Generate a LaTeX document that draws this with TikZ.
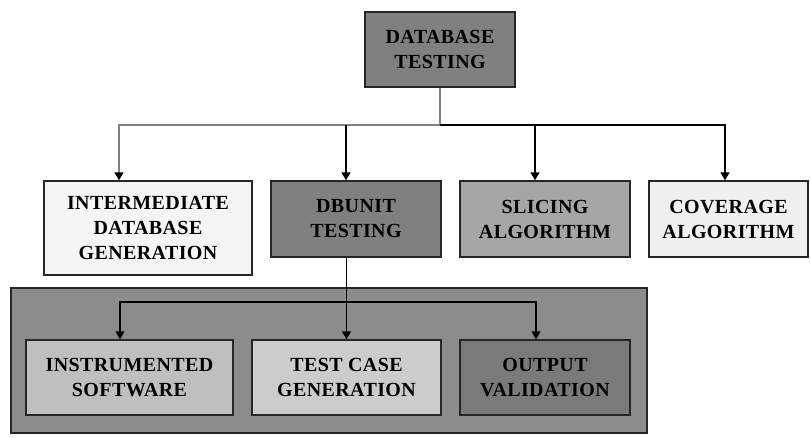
\documentclass[tikz,border=0pt]{standalone}
\usepackage{fontspec}
\setmainfont{Liberation Serif}[LetterSpace=2]
\usetikzlibrary{arrows.meta}
\tikzset{
  blockbox/.style={draw=black!85, line width=1.4pt, align=center, inner sep=0pt,
    font=\fontsize{20}{25}\selectfont\bfseries},
  feed/.style={line width=1.7pt, -{Triangle[width=9pt,length=8pt,black]}},
  greyline/.style={draw=black!50},
}

\begin{document}
\begin{tikzpicture}[x=1pt,y=-1pt]
  %%%%% START %%%%%
  \useasboundingbox (0,0) rectangle (811,437);

  % frame round the dbunit steps
  \draw[fill=black!45, draw=black!85, line width=1.4pt] (11,288) rectangle (647,433);

  \node[blockbox, fill=black!50, minimum width=150pt, minimum height=75pt] (dbtest) at (440,49.5) {DATABASE\\TESTING};

  \node[blockbox, fill=black!4, minimum width=208pt, minimum height=94pt] (inter) at (148,228) {INTERMEDIATE\\DATABASE\\GENERATION};
  \node[blockbox, fill=black!50, minimum width=170pt, minimum height=76pt] (dbunit) at (356,219) {DBUNIT\\TESTING};
  \node[blockbox, fill=black!35, minimum width=170pt, minimum height=76pt] (slicing) at (545,219) {SLICING\\ALGORITHM};
  \node[blockbox, fill=black!6, minimum width=159pt, minimum height=76pt] (coverage) at (728.5,219) {COVERAGE\\ALGORITHM};

  \node[blockbox, fill=black!25, minimum width=207pt, minimum height=75pt] (instr) at (129.5,377.5) {INSTRUMENTED\\SOFTWARE};
  \node[blockbox, fill=black!20, minimum width=189pt, minimum height=75pt] (testcase) at (346.5,377.5) {TEST CASE\\GENERATION};
  \node[blockbox, fill=black!52, minimum width=170pt, minimum height=75pt] (output) at (545,377.5) {OUTPUT\\VALIDATION};

  % upper bus
  \coordinate (hub) at (440,125);
  \coordinate (businter) at (119,125);
  \coordinate (busunit) at (346,125);
  \coordinate (busslice) at (535,125);
  \coordinate (buscov) at (725,125);

  \draw[feed, greyline] (dbtest.south) -- (hub) -- (businter) -- (businter |- inter.north);
  \draw[feed] (hub) -- (buscov) -- (buscov |- coverage.north);
  \draw[feed] (busunit) -- (busunit |- dbunit.north);
  \draw[feed] (busslice) -- (busslice |- slicing.north);

  % lower bus
  \coordinate (innerL) at (120,302);
  \coordinate (innerR) at (536,302);

  \draw[feed] (testcase.north |- dbunit.south) -- (testcase.north);
  \draw[feed] (testcase.north |- innerL) -- (innerL) -- (innerL |- instr.north);
  \draw[feed] (testcase.north |- innerR) -- (innerR) -- (innerR |- output.north);

  %%%%% END %%%%%
\end{tikzpicture}
\end{document}
